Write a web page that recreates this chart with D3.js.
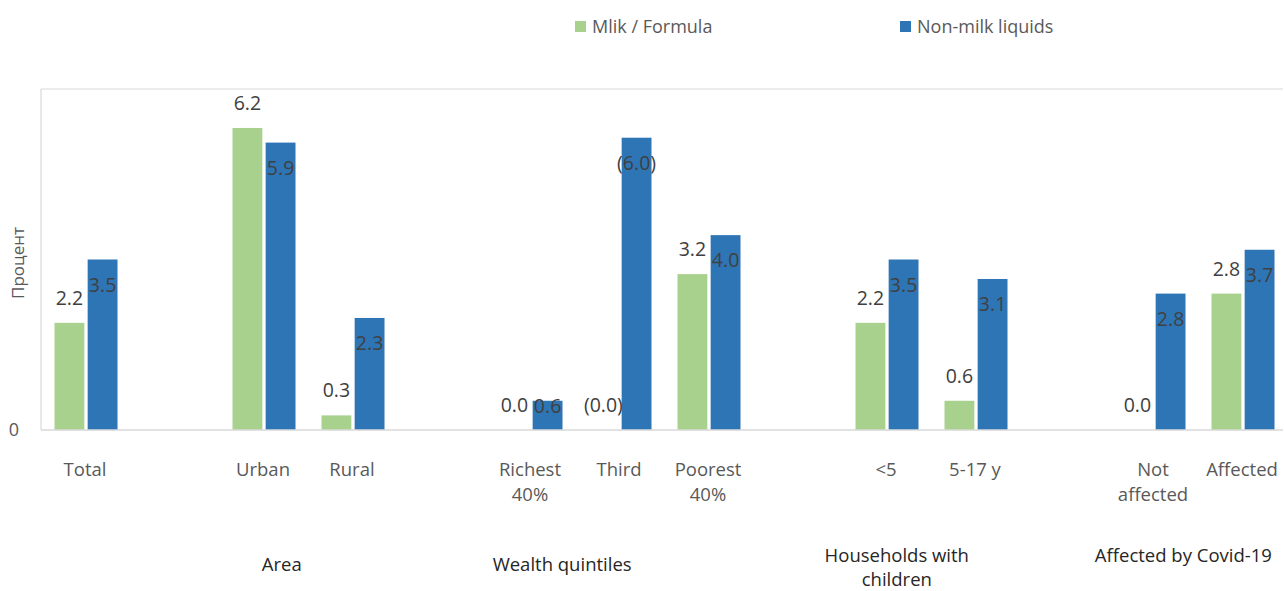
<!DOCTYPE html>
<html>
<head>
<meta charset="utf-8">
<script src="https://cdn.jsdelivr.net/npm/d3@7"></script>
<style>
  html, body { margin: 0; padding: 0; background: #fff; }
  svg { display: block; font-family: "Open Sans", "Noto Sans", sans-serif; }
</style>
</head>
<body>
<svg id="chart" width="1284" height="591"></svg>
<script>
// Category slots along the x axis; empty strings are spacer slots between groups.
const categories = ["Total", "", "Urban", "Rural", "", "Richest\n40%", "Third", "Poorest\n40%", "", "<5", "5-17 y", "", "Not\naffected", "Affected"];
const milkFormula = [2.2, null, 6.2, 0.3, null, 0.0, 0.0, 3.2, null, 2.2, 0.6, null, 0.0, 2.8];
const nonMilkLiquids = [3.5, null, 5.9, 2.3, null, 0.6, 6.0, 4.0, null, 3.5, 3.1, null, 2.8, 3.7];
// Estimates shown in parentheses
const lowSample = [false, false, false, false, false, false, true, false, false, false, false, false, false, false];
const seriesNames = ["Mlik / Formula", "Non-milk liquids"];
const groupNames = ["Area", "Wealth quintiles", "Households with\nchildren", "Affected by Covid-19"];
const yTicks = [0];
const yTitle = "Процент";

const colors = ["#A9D18E", "#2E75B6"];
const svg = d3.select("#chart");

const plot = { left: 41, right: 1283, top: 89, bottom: 430 };

const x = d3.scaleBand()
  .domain(d3.range(categories.length))
  .range([41.5, 41.5 + 89 * categories.length]);

const xInner = d3.scaleBand()
  .domain([0, 1])
  .range([13, 76])
  .paddingInner(0.1);

const y = d3.scaleLinear().domain([0, 7]).range([plot.bottom, plot.top]);

// Plot frame
const frame = svg.append("g").attr("stroke", "#D9D9D9").attr("stroke-width", 1.2);
frame.append("line").attr("x1", plot.left).attr("x2", plot.left).attr("y1", plot.top).attr("y2", plot.bottom);
frame.append("line").attr("x1", plot.left).attr("x2", plot.right).attr("y1", plot.top).attr("y2", plot.top);

// Bars
const series = [milkFormula, nonMilkLiquids];
const fmt = d3.format(".1f");
const labelText = (v, i) => lowSample[i] ? "(" + fmt(v) + ")" : fmt(v);

series.forEach((vals, s) => {
  const pts = vals.map((v, i) => ({ v, i })).filter(d => d.v !== null);
  svg.append("g").selectAll("rect").data(pts).join("rect")
    .attr("x", d => x(d.i) + xInner(s))
    .attr("width", xInner.bandwidth())
    .attr("y", d => y(d.v))
    .attr("height", d => y(0) - y(d.v))
    .attr("fill", colors[s]);
});

// Baseline
svg.append("line")
  .attr("x1", plot.left).attr("x2", plot.right)
  .attr("y1", y(0)).attr("y2", y(0))
  .attr("stroke", "#D9D9D9").attr("stroke-width", 1.5);

// Value labels: first series above the bar, second series just inside its top
series.forEach((vals, s) => {
  const pts = vals.map((v, i) => ({ v, i })).filter(d => d.v !== null);
  svg.append("g").selectAll("text").data(pts).join("text")
    .attr("x", d => x(d.i) + xInner(s) + xInner.bandwidth() / 2)
    .attr("y", d => s === 0 ? y(d.v) - 18 : Math.min(y(d.v) + 32, y(0) - 17))
    .attr("text-anchor", "middle")
    .attr("font-size", 19.5)
    .attr("fill", "#404040")
    .text(d => labelText(d.v, d.i));
});

// Category tick labels
const tickG = svg.append("g").attr("font-size", 18.5).attr("fill", "#595959").attr("text-anchor", "middle");
categories.forEach((c, i) => {
  if (!c) return;
  const t = tickG.append("text").attr("x", x(i) + x.bandwidth() / 2 - 1).attr("y", 476);
  c.split("\n").forEach((line, k) => {
    t.append("tspan").attr("x", x(i) + x.bandwidth() / 2 - 1).attr("dy", k === 0 ? 0 : 25).text(line);
  });
});

// Group labels beneath the categories (anchored at fractional slot positions)
const slot = d3.scaleLinear().domain([0, categories.length]).range(x.range());
const groupAnchors = [2.70, 5.85, 9.61, 12.83];
const groupBaselines = [571, 571, 562, 562];
const groupG = svg.append("g").attr("font-size", 18.5).attr("fill", "#262626").attr("text-anchor", "middle");
groupNames.forEach((g, i) => {
  const t = groupG.append("text").attr("x", slot(groupAnchors[i])).attr("y", groupBaselines[i]);
  g.split("\n").forEach((line, k) => {
    t.append("tspan").attr("x", slot(groupAnchors[i])).attr("dy", k === 0 ? 0 : 24).text(line);
  });
});

// Y axis tick label and title
svg.append("g").selectAll("text").data(yTicks).join("text")
  .attr("x", 14).attr("y", d => y(d) + 6)
  .attr("text-anchor", "middle")
  .attr("font-size", 18).attr("fill", "#595959")
  .text(d => d);

svg.append("text")
  .attr("transform", "translate(24,263) rotate(-90)")
  .attr("text-anchor", "middle")
  .attr("font-size", 17).attr("fill", "#595959")
  .text(yTitle);

// Legend
const legendX = [575, 900];
const legend = svg.append("g");
seriesNames.forEach((n, s) => {
  legend.append("rect").attr("x", legendX[s]).attr("y", 21).attr("width", 11).attr("height", 11).attr("fill", colors[s]);
  legend.append("text").attr("x", legendX[s] + 17).attr("y", 33)
    .attr("font-size", 18).attr("fill", "#595959").text(n);
});
</script>
</body>
</html>
